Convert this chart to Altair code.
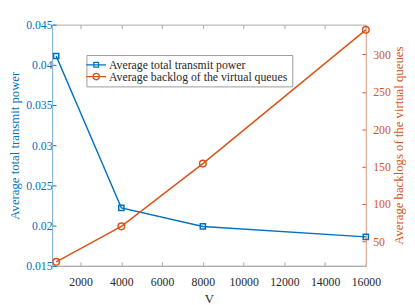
import altair as alt
import pandas as pd

# ---- data ----
V = [800, 4000, 8000, 16000]
power = [0.0411, 0.0222, 0.0199, 0.0186]
backlog = [22.5, 70, 154, 333]
series_names = ["Average total transmit power", "Average backlog of the virtual queues"]
x_ticks = [2000, 4000, 6000, 8000, 10000, 12000, 14000, 16000]
left_ticks = [0.015, 0.02, 0.025, 0.03, 0.035, 0.04, 0.045]
right_ticks = [50, 100, 150, 200, 250, 300]

BLUE = "#0072BD"
ORANGE = "#D95319"
GRAY = "#a8a8a8"
TXT = "#262626"
FONT = "Liberation Serif"

df = pd.DataFrame({"V": V, "power": power, "backlog": backlog})
legend_df = pd.DataFrame({"series": series_names})

xscale = alt.Scale(domain=[600, 16000], nice=False, zero=False)
inward = {"expr": "-4"}
common = dict(labelFont=FONT, titleFont=FONT, labelFontSize=12, titleFontSize=13,
              titleFontWeight="normal", grid=False, labelOverlap=False, labelFlush=False)

x_bottom = alt.X("V:Q", scale=xscale,
                 axis=alt.Axis(orient="bottom", values=x_ticks, title="V", format="d",
                               labelColor=TXT, titleColor=TXT, domainColor=GRAY,
                               tickColor=GRAY, tickSize=inward, labelPadding=15,
                               titlePadding=5, **common))
x_top = alt.X("V:Q", scale=xscale,
              axis=alt.Axis(orient="top", values=x_ticks, labels=False, title=None,
                            domain=False, tickColor=GRAY, tickSize=inward, **common))

y_left = alt.Y("power:Q", scale=alt.Scale(domain=[0.015, 0.045], nice=False, zero=False),
               axis=alt.Axis(values=left_ticks, format="~g",
                             title="Average total transmit power",
                             titleColor=BLUE, labelColor=BLUE, domainColor="#86b9df",
                             tickColor=BLUE, tickSize=inward, labelPadding=4,
                             titlePadding=4, **common))
y_right = alt.Y("backlog:Q", scale=alt.Scale(domain=[17.2, 340], nice=False, zero=False),
                axis=alt.Axis(orient="right", values=right_ticks,
                              title="Average backlogs of the virtual queues",
                              titleColor=ORANGE, labelColor=ORANGE, domainColor="#eeb09a",
                              tickColor=ORANGE, tickSize=inward, labelPadding=11,
                              titleAngle=270, titleBaseline="top", titlePadding=2,
                              **common))

base = alt.Chart(df)
blue = alt.layer(
    base.mark_line(color=BLUE, strokeWidth=1.5).encode(x=x_bottom, y=y_left),
    base.mark_point(color=BLUE, shape="square", size=28, filled=False, strokeWidth=1.5,
                    opacity=1).encode(x=x_bottom, y=y_left),
)
orange = alt.layer(
    base.mark_line(color=ORANGE, strokeWidth=1.5).encode(x=x_top, y=y_right),
    base.mark_point(color=ORANGE, shape="circle", size=45, filled=False, strokeWidth=1.5,
                    opacity=1).encode(x=x_top, y=y_right),
)

sq_path = "M-2.5,0H2.5M-0.6,-0.6H0.6V0.6H-0.6Z"
ci_path = "M-2.5,0H2.5M0.8,0A0.8,0.8,0,1,1,-0.8,0A0.8,0.8,0,1,1,0.8,0Z"
leg = alt.Legend(title=None, orient="none", legendX=35, legendY=31, labelLimit=400,
                 labelFont=FONT, labelFontSize=12)
dummy = alt.Chart(legend_df).mark_point(opacity=0, filled=False, strokeWidth=1.5).encode(
    x=alt.value(0), y=alt.value(0),
    color=alt.Color("series:N", scale=alt.Scale(domain=series_names, range=[BLUE, ORANGE]),
                    legend=leg, sort=series_names),
    shape=alt.Shape("series:N", scale=alt.Scale(domain=series_names, range=[sq_path, ci_path]),
                    legend=leg, sort=series_names),
)

chart = alt.layer(blue, orange, dummy).resolve_scale(y="independent").resolve_axis(
    x="independent").properties(
    width=320, height=246,
    autosize=alt.AutoSizeParams(type="none"),
    padding={"left": 45, "top": 14, "right": 42, "bottom": 37},
).configure_view(stroke=GRAY, strokeWidth=1).configure_axis(
    labelFont=FONT, titleFont=FONT, domainWidth=1, tickWidth=1,
).configure_legend(
    labelFont=FONT, labelFontSize=12, labelColor=TXT, symbolSize=64,
    symbolStrokeWidth=1.3, symbolOpacity=1, labelOffset=7, rowPadding=0,
    padding=4, strokeColor="#9a9a9a", fillColor="white", cornerRadius=0,
)

chart.save("out.html", embed_options={"renderer": "svg", "actions": False})
